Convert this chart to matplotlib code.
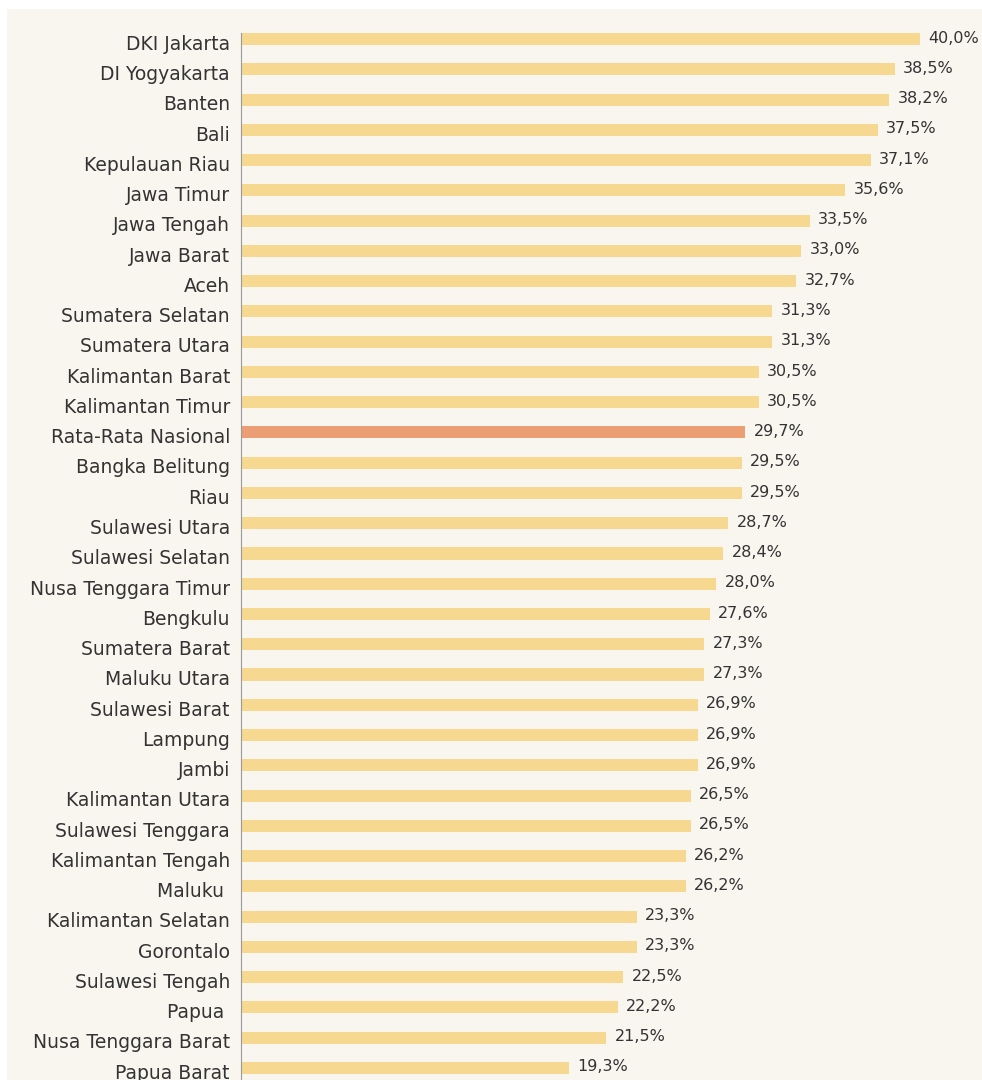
import matplotlib
matplotlib.use("Agg")
import matplotlib.pyplot as plt
from matplotlib.patches import Rectangle

provinces = ["DKI Jakarta", "DI Yogyakarta", "Banten", "Bali", "Kepulauan Riau",
             "Jawa Timur", "Jawa Tengah", "Jawa Barat", "Aceh", "Sumatera Selatan",
             "Sumatera Utara", "Kalimantan Barat", "Kalimantan Timur", "Rata-Rata Nasional",
             "Bangka Belitung", "Riau", "Sulawesi Utara", "Sulawesi Selatan",
             "Nusa Tenggara Timur", "Bengkulu", "Sumatera Barat", "Maluku Utara",
             "Sulawesi Barat", "Lampung", "Jambi", "Kalimantan Utara", "Sulawesi Tenggara",
             "Kalimantan Tengah", "Maluku ", "Kalimantan Selatan", "Gorontalo",
             "Sulawesi Tengah", "Papua ", "Nusa Tenggara Barat", "Papua Barat"]
values = [40.0, 38.5, 38.2, 37.5, 37.1, 35.6, 33.5, 33.0, 32.7, 31.3,
          31.3, 30.5, 30.5, 29.7, 29.5, 29.5, 28.7, 28.4, 28.0, 27.6,
          27.3, 27.3, 26.9, 26.9, 26.9, 26.5, 26.5, 26.2, 26.2, 23.3,
          23.3, 22.5, 22.2, 21.5, 19.3]
highlight = "Rata-Rata Nasional"

bg = "#F9F6F0"
bar_col = "#F6D891"
hi_col = "#EC9E74"
txt_col = "#333333"

fig = plt.figure(figsize=(9.82, 10.8), dpi=100, facecolor="white")
fig.patches.append(Rectangle((7 / 982, 0), 1 - 7 / 982, 1 - 9 / 1080,
                             transform=fig.transFigure, facecolor=bg,
                             edgecolor="none", zorder=-10))
ax = fig.add_axes([241 / 982, 0, 1 - 241 / 982, 1 - 33 / 1080])
ax.set_facecolor("none")

y = list(range(len(provinces)))
colors = [hi_col if p == highlight else bar_col for p in provinces]
ax.barh(y, values, height=0.4, color=colors, edgecolor="none")

for yi, v in zip(y, values):
    ax.text(v + 0.5, yi - 0.03, f"{v:.1f}%".replace(".", ","), va="center", ha="left",
            fontsize=11.5, color=txt_col, family="DejaVu Sans")

ytrans = ax.get_yaxis_transform()
for yi, p in zip(y, provinces):
    ax.annotate(p, xy=(0, yi), xycoords=ytrans, xytext=(-8, -3.8),
                textcoords="offset points", ha="right", va="center",
                fontsize=13.5, color=txt_col, family="DejaVu Sans",
                annotation_clip=False)

ax.set_yticks([])
ax.set_ylim(34.4, -0.2)
ax.set_xlim(0, (982 - 241) / 16.975)
ax.set_xticks([])
for s in ["top", "right", "bottom"]:
    ax.spines[s].set_visible(False)
ax.spines["left"].set_color("#9a9a9a")
ax.spines["left"].set_linewidth(0.8)

fig.savefig("out.png", dpi=100, facecolor="white")
